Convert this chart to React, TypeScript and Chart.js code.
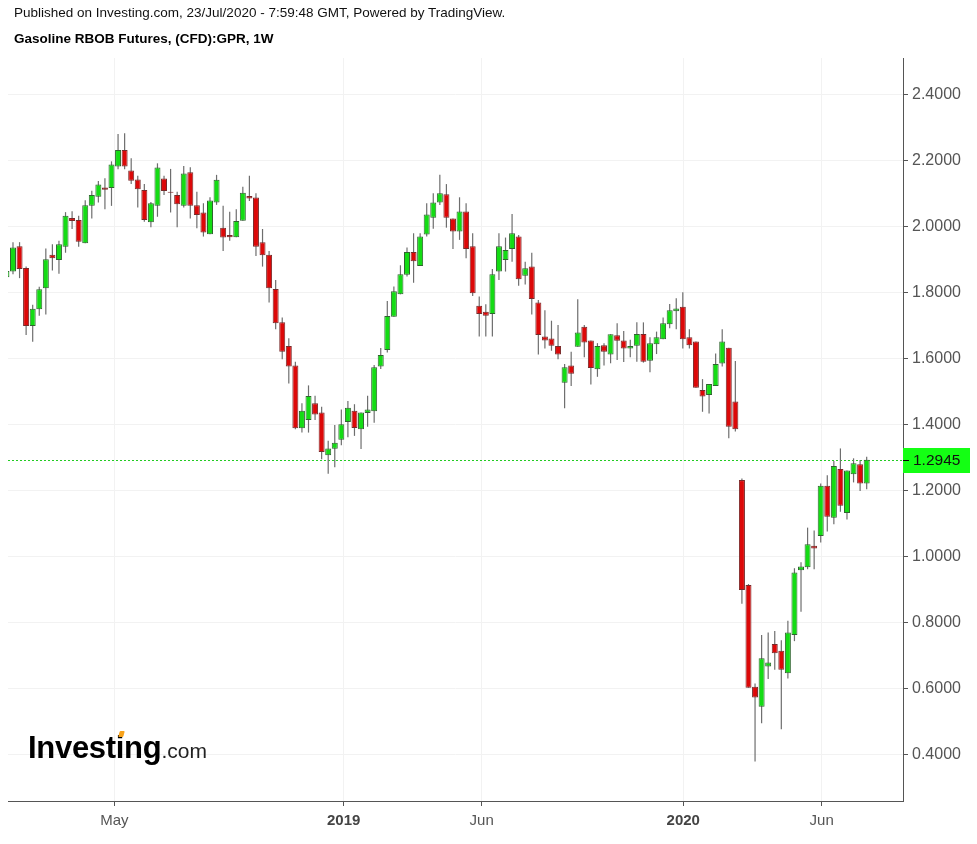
import React, { useEffect, useRef } from 'react';
import { Chart, registerables } from 'chart.js';

Chart.register(...registerables);

const FONT = "'Liberation Sans', Arial, sans-serif";

// Weekly OHLC (Gasoline RBOB Futures CFD)
const opens = [
  1.848, 1.865, 1.942, 1.876, 1.700, 1.751, 1.814, 1.916, 1.900, 1.940,
  2.027, 2.021, 1.951, 2.064, 2.092, 2.120, 2.118, 2.183, 2.233, 2.171,
  2.144, 2.112, 2.014, 2.064, 2.147, 2.107, 2.097, 2.064, 2.166, 2.066,
  2.044, 1.978, 2.074, 1.998, 1.976, 1.969, 2.019, 2.094, 2.089, 1.954,
  1.916, 1.812, 1.711, 1.639, 1.580, 1.390, 1.415, 1.466, 1.438, 1.308,
  1.328, 1.355, 1.409, 1.443, 1.387, 1.436, 1.442, 1.577, 1.627, 1.728,
  1.796, 1.855, 1.924, 1.882, 1.977, 2.028, 2.074, 2.099, 2.026, 1.986,
  2.047, 1.942, 1.761, 1.743, 1.736, 1.865, 1.900, 1.933, 1.971, 1.852,
  1.880, 1.771, 1.668, 1.662, 1.639, 1.528, 1.580, 1.637, 1.698, 1.656,
  1.569, 1.642, 1.614, 1.672, 1.656, 1.632, 1.640, 1.676, 1.595, 1.645,
  1.660, 1.705, 1.745, 1.758, 1.666, 1.653, 1.506, 1.491, 1.518, 1.586,
  1.634, 1.471, 1.233, 0.915, 0.607, 0.546, 0.668, 0.736, 0.716, 0.648,
  0.764, 0.960, 0.969, 1.034, 1.064, 1.216, 1.119, 1.267, 1.133, 1.251,
  1.281, 1.223,
];
const highs = [
  1.870, 1.954, 1.954, 1.880, 1.764, 1.819, 1.935, 1.948, 1.958, 2.045,
  2.048, 2.034, 2.081, 2.110, 2.139, 2.148, 2.199, 2.282, 2.284, 2.208,
  2.155, 2.130, 2.076, 2.193, 2.155, 2.176, 2.107, 2.185, 2.181, 2.107,
  2.072, 2.090, 2.158, 2.064, 2.046, 2.054, 2.122, 2.155, 2.102, 1.994,
  1.927, 1.839, 1.726, 1.663, 1.592, 1.466, 1.520, 1.489, 1.455, 1.352,
  1.400, 1.447, 1.473, 1.463, 1.438, 1.489, 1.582, 1.633, 1.776, 1.820,
  1.884, 1.938, 1.981, 1.981, 2.072, 2.102, 2.158, 2.130, 2.026, 2.090,
  2.072, 1.981, 1.789, 1.766, 1.873, 1.981, 1.968, 2.039, 1.976, 1.895,
  1.922, 1.779, 1.748, 1.716, 1.703, 1.585, 1.622, 1.781, 1.703, 1.656,
  1.648, 1.648, 1.675, 1.708, 1.685, 1.658, 1.711, 1.711, 1.666, 1.683,
  1.726, 1.767, 1.784, 1.802, 1.690, 1.653, 1.539, 1.524, 1.617, 1.690,
  1.634, 1.594, 1.238, 0.918, 0.617, 0.764, 0.771, 0.776, 0.748, 0.807,
  0.966, 0.984, 1.089, 1.080, 1.223, 1.248, 1.291, 1.329, 1.262, 1.299,
  1.294, 1.304,
];
const lows = [
  1.845, 1.857, 1.845, 1.673, 1.652, 1.731, 1.735, 1.868, 1.858, 1.922,
  1.994, 1.940, 1.951, 2.026, 2.074, 2.054, 2.064, 2.175, 2.175, 2.130,
  2.059, 2.016, 1.999, 2.031, 2.097, 2.044, 1.999, 2.059, 2.026, 1.996,
  1.971, 1.978, 2.067, 1.927, 1.958, 1.969, 2.019, 2.079, 1.912, 1.880,
  1.771, 1.690, 1.599, 1.526, 1.387, 1.377, 1.377, 1.415, 1.296, 1.252,
  1.272, 1.339, 1.363, 1.367, 1.327, 1.395, 1.407, 1.570, 1.620, 1.728,
  1.796, 1.850, 1.831, 1.882, 1.971, 1.995, 2.067, 1.998, 1.933, 1.961,
  1.905, 1.791, 1.668, 1.668, 1.668, 1.839, 1.865, 1.895, 1.822, 1.826,
  1.735, 1.614, 1.632, 1.625, 1.599, 1.451, 1.518, 1.637, 1.605, 1.523,
  1.546, 1.580, 1.587, 1.597, 1.591, 1.605, 1.592, 1.589, 1.560, 1.615,
  1.660, 1.693, 1.690, 1.632, 1.632, 1.513, 1.440, 1.435, 1.518, 1.577,
  1.360, 1.380, 0.858, 0.604, 0.380, 0.496, 0.630, 0.658, 0.478, 0.632,
  0.745, 0.834, 0.963, 0.963, 1.044, 1.077, 1.099, 1.137, 1.114, 1.226,
  1.200, 1.205,
];
const closes = [
  1.867, 1.938, 1.873, 1.700, 1.752, 1.811, 1.902, 1.905, 1.948, 2.034,
  2.018, 1.955, 2.066, 2.097, 2.129, 2.113, 2.189, 2.233, 2.183, 2.140,
  2.114, 2.021, 2.072, 2.180, 2.109, 2.104, 2.069, 2.162, 2.064, 2.036,
  1.983, 2.080, 2.143, 1.968, 1.969, 2.018, 2.104, 2.086, 1.940, 1.914,
  1.814, 1.708, 1.622, 1.577, 1.390, 1.443, 1.488, 1.432, 1.318, 1.329,
  1.346, 1.402, 1.452, 1.391, 1.438, 1.447, 1.575, 1.612, 1.730, 1.805,
  1.857, 1.924, 1.896, 1.971, 2.038, 2.074, 2.102, 2.028, 1.986, 2.047,
  1.933, 1.799, 1.736, 1.731, 1.857, 1.942, 1.930, 1.981, 1.842, 1.875,
  1.782, 1.673, 1.656, 1.640, 1.614, 1.575, 1.555, 1.680, 1.650, 1.573,
  1.639, 1.622, 1.675, 1.655, 1.632, 1.639, 1.676, 1.592, 1.648, 1.666,
  1.708, 1.748, 1.753, 1.660, 1.642, 1.513, 1.486, 1.524, 1.585, 1.653,
  1.395, 1.387, 0.900, 0.604, 0.574, 0.693, 0.680, 0.708, 0.658, 0.771,
  0.953, 0.971, 1.039, 1.026, 1.216, 1.122, 1.276, 1.155, 1.262, 1.284,
  1.223, 1.2945,
];

// x-axis ticks (positions in week-index units)
const xTickPositions = [16.43, 51.36, 72.37, 103.07, 124.15];
const xTickLabels = ['May', '2019', 'Jun', '2020', 'Jun'];
const xTickBold = [false, true, false, true, false];
const yTickValues = [0.4, 0.6, 0.8, 1.0, 1.2, 1.4, 1.6, 1.8, 2.0, 2.2, 2.4];
const lastPrice = 1.2945;

const lastPricePlugin = {
  id: 'lastPrice',
  beforeDatasetsDraw(chart: any) {
    const { ctx, chartArea } = chart;
    const y = Math.round(chart.scales.y.getPixelForValue(lastPrice)) + 0.5;
    ctx.save();
    ctx.strokeStyle = '#22cc22';
    ctx.lineWidth = 1;
    ctx.setLineDash([2, 2]);
    ctx.beginPath();
    ctx.moveTo(chartArea.left, y);
    ctx.lineTo(chartArea.right, y);
    ctx.stroke();
    ctx.restore();
  },
  afterDraw(chart: any) {
    const { ctx, chartArea } = chart;
    const y = Math.round(chart.scales.y.getPixelForValue(lastPrice));
    const x0 = chartArea.right;
    ctx.save();
    ctx.fillStyle = '#14ff14';
    ctx.fillRect(x0, y - 12, 67, 25);
    ctx.strokeStyle = '#000';
    ctx.lineWidth = 1;
    ctx.beginPath();
    ctx.moveTo(x0, y + 0.5);
    ctx.lineTo(x0 + 6, y + 0.5);
    ctx.stroke();
    ctx.fillStyle = '#111';
    ctx.font = `15.5px ${FONT}`;
    ctx.textBaseline = 'middle';
    ctx.textAlign = 'left';
    ctx.fillText(lastPrice.toFixed(4), x0 + 10, y + 1);
    ctx.restore();
  },
};

function CandleChart() {
  const ref = useRef<HTMLCanvasElement>(null);
  useEffect(() => {
    if (!ref.current) return;
    const n = closes.length;
    const idx = Array.from({ length: n }, (_, i) => i);
    const up = idx.map((i) => closes[i] >= opens[i]);
    const wickData = idx.map((i) => ({ x: i, y: [lows[i], highs[i]] }));
    const bodyData = idx.map((i) => ({ x: i, y: [opens[i], closes[i]] }));
    const chart = new Chart(ref.current, {
      type: 'bar',
      data: {
        datasets: [
          {
            label: 'wick',
            data: wickData as any,
            backgroundColor: '#6e6e6e',
            borderWidth: 0,
            barThickness: 1.2,
            inflateAmount: 0,
            grouped: false,
            order: 2,
          } as any,
          {
            label: 'body',
            data: bodyData as any,
            backgroundColor: up.map((u) => (u ? '#14dc14' : '#dc0808')),
            borderColor: up.map((u) => (u ? '#2f652f' : '#772a2a')),
            borderWidth: 1,
            borderSkipped: false,
            barThickness: 6,
            inflateAmount: 0,
            grouped: false,
            order: 1,
          } as any,
        ],
      },
      options: {
        animation: false,
        responsive: false,
        devicePixelRatio: 1,
        events: [],
        layout: { padding: { top: 58, left: 8, right: 0, bottom: 0 } },
        plugins: { legend: { display: false }, tooltip: { enabled: false } },
        scales: {
          x: {
            type: 'linear',
            min: 0.24,
            max: 136.53,
            offset: false,
            grid: { color: '#f2f2f2', tickColor: '#555', tickLength: 5, offset: false },
            border: { color: '#555', width: 1 },
            afterBuildTicks: (s: any) => {
              s.ticks = xTickPositions.map((v) => ({ value: v }));
            },
            afterFit: (s: any) => {
              s.height = 43;
            },
            ticks: {
              autoSkip: false,
              maxRotation: 0,
              minRotation: 0,
              padding: 6,
              color: (c: any) => (xTickBold[c.index] ? '#444' : '#555'),
              font: (c: any) => ({ family: FONT, size: 15, weight: xTickBold[c.index] ? 'bold' : 'normal' }),
              callback: (_v: any, i: number) => xTickLabels[i],
            },
          },
          y: {
            type: 'linear',
            position: 'right',
            min: 0.2606,
            max: 2.5121,
            grid: { color: '#f2f2f2', tickColor: '#555', tickLength: 5 },
            border: { color: '#555', width: 1 },
            afterBuildTicks: (s: any) => {
              s.ticks = yTickValues.map((v) => ({ value: v }));
            },
            afterFit: (s: any) => {
              s.width = 74;
            },
            ticks: {
              padding: 4,
              color: '#555',
              font: { family: FONT, size: 16 },
              callback: (v: any) => Number(v).toFixed(4),
            },
          },
        },
      },
      plugins: [lastPricePlugin],
    } as any);
    return () => chart.destroy();
  }, []);
  return <canvas ref={ref} width={977} height={844} style={{ display: 'block', width: 977, height: 844 }} />;
}

export default function App() {
  return (
    <div style={{ position: 'absolute', left: 0, top: 0, width: 977, height: 844, background: '#fff', overflow: 'hidden' }}>
      <CandleChart />
      <div style={{ position: 'absolute', left: 14, top: 5, font: `13.5px ${FONT}`, lineHeight: '16px', color: '#111', whiteSpace: 'nowrap' }}>
        Published on Investing.com, 23/Jul/2020 - 7:59:48 GMT, Powered by TradingView.
      </div>
      <div style={{ position: 'absolute', left: 14, top: 31, font: `bold 13.5px ${FONT}`, lineHeight: '16px', color: '#000', whiteSpace: 'nowrap' }}>
        Gasoline RBOB Futures, (CFD):GPR, 1W
      </div>
      <div style={{ position: 'absolute', left: 28, top: 733, fontFamily: FONT, lineHeight: '30px', whiteSpace: 'nowrap' }}>
        <span style={{ fontSize: 31, fontWeight: 'bold', color: '#000', letterSpacing: '-0.3px' }}>Investing</span>
        <span style={{ fontSize: 21, color: '#222' }}>.com</span>
      </div>
      <div style={{ position: 'absolute', left: 119, top: 731, width: 5, height: 6, background: '#f7a21b', borderRadius: 1, transform: 'skewX(-15deg)' }} />
    </div>
  );
}
